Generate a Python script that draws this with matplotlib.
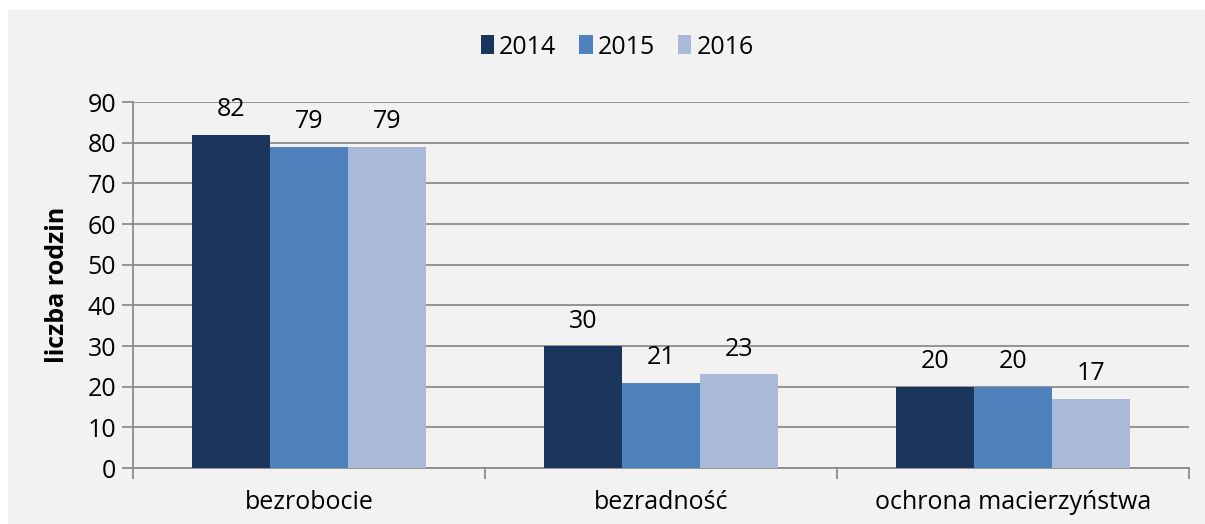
import numpy as np
import matplotlib.pyplot as plt
from matplotlib.patches import Rectangle

# Data
categories = ["bezrobocie", "bezradność", "ochrona macierzyństwa"]
years = ["2014", "2015", "2016"]
v2014 = [82, 30, 20]
v2015 = [79, 21, 20]
v2016 = [79, 23, 17]
colors = ["#1a365d", "#4f81bd", "#aab9d7"]

plt.rcParams["font.family"] = ["Open Sans", "DejaVu Sans"]

fig = plt.figure(figsize=(12.05, 5.24), dpi=100)
fig.patch.set_facecolor("white")
bg = Rectangle((8 / 1205, 0), 1, (524 - 10) / 524, transform=fig.transFigure,
               facecolor="#f2f2f2", edgecolor="none", zorder=-10)
fig.add_artist(bg)

ax = fig.add_axes([133 / 1205, (524 - 468) / 524, (1189 - 133) / 1205, (468 - 102) / 524])
ax.set_facecolor("#f2f2f2")

x = np.arange(len(categories))
w = 0.222
series = [v2014, v2015, v2016]
for i, (vals, col, yr) in enumerate(zip(series, colors, years)):
    bars = ax.bar(x + (i - 1) * w, vals, width=w, color=col, label=yr, zorder=3)
    for b, v in zip(bars, vals):
        ax.annotate(str(v), (b.get_x() + b.get_width() / 2, v),
                    xytext=(0, 9), textcoords="offset points",
                    ha="center", va="bottom", fontsize=18, color="black")

ax.set_xlim(-0.5, 2.5)
ax.set_ylim(0, 90)
ax.set_yticks(range(0, 91, 10))
ax.yaxis.grid(True, color="#8c8c8c", linewidth=1.3, zorder=0)
ax.set_axisbelow(True)

ax.set_xticks([-0.5, 0.5, 1.5, 2.5])
ax.set_xticklabels([])
ax.set_xticks(x, minor=True)
ax.set_xticklabels(categories, minor=True, fontsize=18)
ax.tick_params(axis="x", which="minor", length=0, pad=16)
ax.tick_params(axis="x", which="major", length=8, color="#8c8c8c", width=1.3)
ax.tick_params(axis="y", length=8, color="#8c8c8c", width=1.3, labelsize=18, pad=4)

for s in ["top", "right"]:
    ax.spines[s].set_visible(False)
for s in ["left", "bottom"]:
    ax.spines[s].set_color("#8c8c8c")
    ax.spines[s].set_linewidth(1.3)

ax.set_ylabel("liczba rodzin", fontsize=18, fontweight="bold")
ax.yaxis.set_label_coords(-63 / 1056, 0.5)

fig.legend(loc="center", bbox_to_anchor=(617 / 1205, 1 - 47 / 524), ncol=3, frameon=False,
           fontsize=18, handlelength=0.55, handleheight=0.8, handletextpad=0.2,
           columnspacing=0.9)

fig.savefig("out.png", dpi=100)
